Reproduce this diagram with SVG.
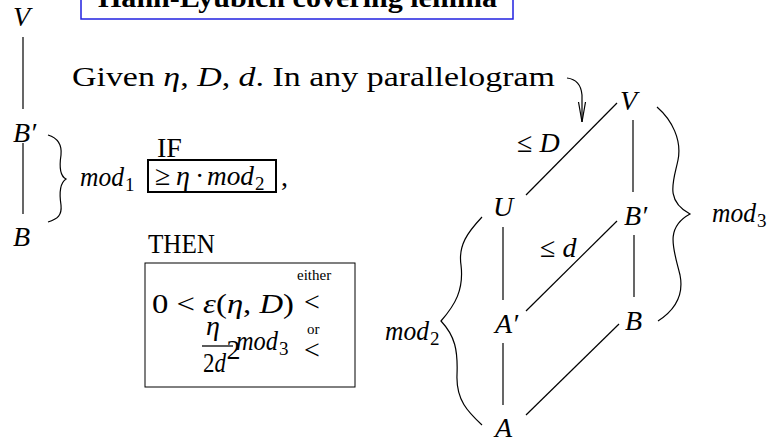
<svg xmlns="http://www.w3.org/2000/svg" width="776" height="443" viewBox="0 0 776 443">
<style>
text{font-family:"Liberation Serif","Times New Roman",serif;fill:#000;font-size:28px}
.i{font-style:italic}
.s{font-size:19px}
.t{font-size:15px}
.ln{stroke:#000;stroke-width:1.2;fill:none}
.br{stroke:#000;stroke-width:1.2;fill:none}
</style>
<defs>
<marker id="ah" markerWidth="22" markerHeight="10" refX="20" refY="5" orient="auto" markerUnits="userSpaceOnUse" viewBox="0 0 22 10">
<path d="M0,1.5 L20,5 L0,8.5" fill="none" stroke="#000" stroke-width="1.2"/>
</marker>
</defs>
<rect width="776" height="443" fill="#fff"/>

<g id="title">
<rect x="81" y="-40" width="432" height="59" fill="none" stroke="#2020e0" stroke-width="1.5"/>
<text x="98" y="7" font-weight="bold" font-size="31" textLength="399" lengthAdjust="spacingAndGlyphs">Hahn-Lyubich covering lemma</text>
</g>

<g id="given">
<text x="72" y="86" font-size="29" textLength="483" lengthAdjust="spacingAndGlyphs">Given <tspan class="i">η</tspan>, <tspan class="i">D</tspan>, <tspan class="i">d</tspan>. In any parallelogram</text>
</g>

<g id="left-V"><text class="i" x="13" y="26">V</text></g>
<g id="left-Bp"><text class="i" x="13" y="142">B′</text></g>
<g id="left-B"><text class="i" x="13" y="246">B</text></g>
<g id="mod1"><text class="i" x="80" y="186" textLength="44" lengthAdjust="spacingAndGlyphs">mod</text><text class="s" x="125" y="191">1</text></g>

<g id="if-label"><text x="157" y="157" font-size="25">IF</text></g>
<g id="if-box">
<rect x="148" y="160" width="128" height="32" fill="none" stroke="#000" stroke-width="2"/>
<text x="155" y="185">≥</text>
<text class="i" x="176" y="185">η</text>
<text x="195" y="185">·</text>
<text class="i" x="207" y="185" textLength="47" lengthAdjust="spacingAndGlyphs">mod</text>
<text class="s" x="255" y="190">2</text>
</g>
<g id="comma"><text x="281" y="186">,</text></g>

<g id="then-label"><text x="148" y="253" font-size="25" textLength="67" lengthAdjust="spacingAndGlyphs">THEN</text></g>
<g id="then-box">
<rect x="145" y="263" width="210" height="124" fill="none" stroke="#000" stroke-width="1"/>
<text x="152" y="313" textLength="142" lengthAdjust="spacingAndGlyphs">0 &lt; <tspan class="i">ε</tspan>(<tspan class="i">η</tspan>, <tspan class="i">D</tspan>)</text>
<text class="t" x="297" y="280">either</text>
<text x="304" y="311" font-size="30">&lt;</text>
<text class="i" x="206" y="335">η</text>
<line x1="202" y1="346" x2="233" y2="346" stroke="#000" stroke-width="1.3"/>
<text x="203" y="372" textLength="23" lengthAdjust="spacingAndGlyphs">2<tspan class="i">d</tspan></text>
<text x="226.5" y="359" font-size="13">2</text>
<text class="i" x="236" y="350" textLength="42" lengthAdjust="spacingAndGlyphs">mod</text>
<text class="s" x="279" y="355">3</text>
<text class="t" x="307" y="334">or</text>
<text x="304" y="359" font-size="30">&lt;</text>
</g>
<g id="mod2"><text class="i" x="385" y="340" textLength="44" lengthAdjust="spacingAndGlyphs">mod</text><text class="s" x="430" y="345">2</text></g>

<g id="node-V"><text class="i" x="620" y="110">V</text></g>
<g id="node-U"><text class="i" x="493" y="216">U</text></g>
<g id="node-Bp"><text class="i" x="624" y="225">B′</text></g>
<g id="node-Ap"><text class="i" x="495" y="333">A′</text></g>
<g id="node-B"><text class="i" x="625" y="330">B</text></g>
<g id="node-A"><text class="i" x="495" y="437">A</text></g>
<g id="label-D"><text x="517" y="152">≤ <tspan class="i">D</tspan></text></g>
<g id="label-d"><text x="540" y="257">≤ <tspan class="i">d</tspan></text></g>
<g id="mod3"><text class="i" x="712" y="222" textLength="44" lengthAdjust="spacingAndGlyphs">mod</text><text class="s" x="757" y="227">3</text></g>

<g id="connectors">
<line class="ln" x1="23" y1="37" x2="23" y2="109"/>
<line class="ln" x1="23" y1="143" x2="23" y2="214"/>
<line class="ln" x1="617" y1="103" x2="526" y2="195"/>
<line class="ln" x1="633" y1="120" x2="633" y2="192"/>
<line class="ln" x1="503" y1="227" x2="503" y2="300"/>
<line class="ln" x1="617" y1="221" x2="526" y2="311"/>
<line class="ln" x1="634" y1="235" x2="634" y2="297"/>
<line class="ln" x1="503" y1="343" x2="503" y2="405"/>
<line class="ln" x1="619" y1="324" x2="526" y2="415"/>
<path class="ln" d="M567,78 C575,79 581,83 582,95 L582,122" marker-end="url(#ah)"/>
<path class="br" d="M48,135 C58,138 62,145 61,155 C59,168 60,176 66,179 C60,183 59,192 61,205 C62,215 58,219 48,222"/>
<path class="br" d="M482,217 C468,232 458,245 461,265 C464,290 455,305 441,321 C455,336 458,350 457,375 C456,400 468,412 482,425"/>
<path class="br" d="M657,107 C672,120 682,140 678,160 C674,180 664,200 690,214 C664,228 674,250 680,275 C684,295 675,310 658,321"/>
</g>
</svg>
